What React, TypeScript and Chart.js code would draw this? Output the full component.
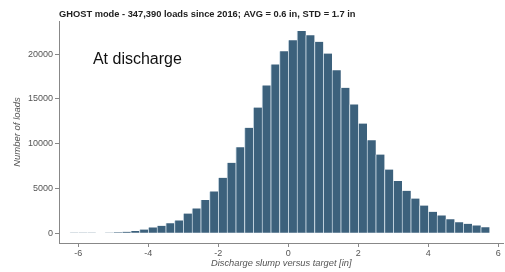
import React, { useEffect, useRef } from "react";
import { Chart, registerables } from "chart.js";

Chart.register(...registerables);

const binStarts = [
  -6.25, -6.0, -5.75, -5.5, -5.25, -5.0, -4.75, -4.5, -4.25, -4.0, -3.75, -3.5,
  -3.25, -3.0, -2.75, -2.5, -2.25, -2.0, -1.75, -1.5, -1.25, -1.0, -0.75, -0.5,
  -0.25, 0.0, 0.25, 0.5, 0.75, 1.0, 1.25, 1.5, 1.75, 2.0, 2.25, 2.5, 2.75, 3.0,
  3.25, 3.5, 3.75, 4.0, 4.25, 4.5, 4.75, 5.0, 5.25, 5.5,
];
const binWidth = 0.25;
const loadCounts = [
  10, 20, 30, 50, 70, 110, 160, 230, 400, 640, 820, 1120,
  1420, 2200, 2760, 3690, 4660, 6180, 7860, 9610, 11770, 14040, 16500, 18850,
  20330, 21560, 22570, 22120, 21380, 20070, 18210, 16240, 14380, 12250, 10390, 8790, 7110, 5840,
  4730, 3870, 3090, 2380, 1980, 1560, 1230, 1040, 860, 670,
];
const xTicks = [-6, -4, -2, 0, 2, 4, 6];
const yTicks = [0, 5000, 10000, 15000, 20000];

const titleText = "GHOST mode - 347,390 loads since 2016; AVG = 0.6 in, STD = 1.7 in";
const annotationText = "At discharge";
const xTitle = "Discharge slump versus target [in]";
const yTitle = "Number of loads";

const FONT = "'Liberation Sans', Arial, Helvetica, sans-serif";

export default function App() {
  const ref = useRef<HTMLCanvasElement | null>(null);

  useEffect(() => {
    if (!ref.current) return;
    const annotationPlugin = {
      id: "annot",
      afterDraw(chart: any) {
        const ctx = chart.ctx;
        const xs = chart.scales.x;
        const ys = chart.scales.y;
        ctx.save();
        ctx.font = `16px ${FONT}`;
        ctx.fillStyle = "#111";
        ctx.textBaseline = "middle";
        ctx.textAlign = "left";
        ctx.fillText(annotationText, xs.getPixelForValue(-5.58), ys.getPixelForValue(19400));
        ctx.restore();
      },
    };

    const chart = new Chart(ref.current, {
      type: "bar",
      data: {
        datasets: [
          {
            data: binStarts.map((s, i) => ({ x: s + binWidth / 2, y: loadCounts[i] })),
            backgroundColor: "#3c617c",
            borderColor: "#c9d8e3",
            borderWidth: { left: 1, right: 0, top: 0, bottom: 0 } as any,
            borderSkipped: false,
            barPercentage: 1,
            categoryPercentage: 1,
          },
        ],
      },
      options: {
        animation: false,
        responsive: false,
        maintainAspectRatio: false,
        layout: { padding: { left: 0, right: 1.5, top: 0, bottom: 0 } },
        plugins: {
          legend: { display: false },
          tooltip: { enabled: false },
          title: {
            display: true,
            text: titleText,
            align: "start",
            fullSize: false,
            color: "#222",
            font: { family: FONT, size: 9.3, weight: "bold" },
            padding: { top: 8.4, bottom: 1.44 },
          },
        },
        scales: {
          x: {
            type: "linear",
            min: -6.55,
            max: 6.15,
            offset: false,
            afterFit: (s: any) => {
              s.height = 29;
            },
            afterBuildTicks: (axis: any) => {
              axis.ticks = xTicks.map((v) => ({ value: v }));
            },
            grid: {
              display: true,
              drawOnChartArea: false,
              offset: false,
              tickLength: 4,
              color: "#888",
            },
            border: { display: true, color: "#888", width: 1 },
            ticks: {
              color: "#555",
              padding: 1,
              maxRotation: 0,
              font: { family: FONT, size: 9 },
              callback: (v: any) => String(v),
            },
            title: {
              display: true,
              text: xTitle,
              color: "#555",
              font: { family: FONT, size: 9.3, style: "italic" },
              padding: { top: 0, bottom: 3.4 },
            },
          },
          y: {
            type: "linear",
            min: -1100,
            max: 23700,
            afterFit: (s: any) => {
              s.width = 59;
            },
            afterBuildTicks: (axis: any) => {
              axis.ticks = yTicks.map((v) => ({ value: v }));
            },
            grid: {
              display: true,
              drawOnChartArea: false,
              tickLength: 4,
              color: "#888",
            },
            border: { display: true, color: "#888", width: 1 },
            ticks: {
              color: "#555",
              padding: 2,
              font: { family: FONT, size: 9 },
              callback: (v: any) => String(v),
            },
            title: {
              display: true,
              text: yTitle,
              color: "#555",
              font: { family: FONT, size: 9.5, style: "italic" },
              padding: { top: 11.3, bottom: 0 },
            },
          },
        },
      },
      plugins: [annotationPlugin],
    });
    return () => chart.destroy();
  }, []);

  return (
    <div style={{ position: "fixed", left: 0, top: 0, width: 505, height: 272, background: "#fff" }}>
      <canvas ref={ref} width={505} height={272} style={{ width: 505, height: 272, display: "block" }} />
    </div>
  );
}
